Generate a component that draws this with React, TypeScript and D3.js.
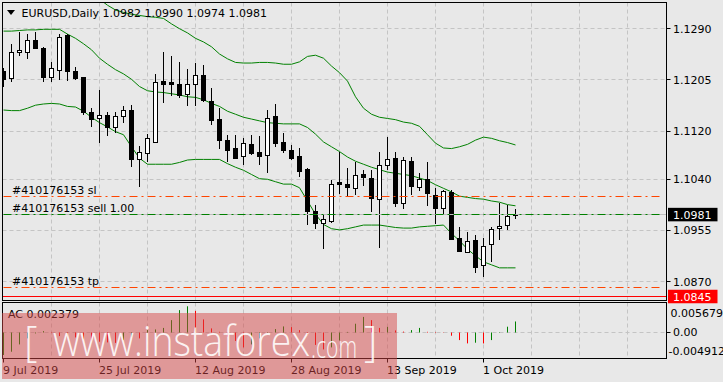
import React from "react";
import * as d3 from "d3";

const W = 723;
const H = 382;

const symbolLabel = "EURUSD,Daily";
const indicatorName = "AC";
const orderId = "#410176153";
const orderSide = "sell 1.00";
const watermarkMain = "www.instaforex";
const watermarkTld = ".com";

const dateLabels = ["9 Jul 2019", "25 Jul 2019", "12 Aug 2019", "28 Aug 2019", "13 Sep 2019", "1 Oct 2019"];
const dateTickIdx = [0, 12, 24, 36, 48, 60];
const priceTicks = [1.129, 1.1205, 1.112, 1.104, 1.0955, 1.087];
const acTicks = [0.005679, 0, -0.004912];

const slPrice = 1.1012;
const entryPrice = 1.0982;
const tpPrice = 1.0861;
const alertPrice = 1.0845;
const bidPrice = 1.0981;

const opens = [1.1220, 1.1208, 1.1251, 1.1252, 1.1271, 1.1258, 1.1210, 1.1221, 1.1279, 1.1219,
  1.1209, 1.1152, 1.1141, 1.1147, 1.1126, 1.1145, 1.1155, 1.1074, 1.1084, 1.1102,
  1.1203, 1.1201, 1.1198, 1.1181, 1.1198, 1.1213, 1.1170, 1.1140, 1.1106, 1.1092,
  1.1079, 1.1098, 1.1085, 1.1080, 1.1145, 1.1102, 1.1089, 1.1079, 1.1057, 1.0987,
  1.0967, 1.0971, 1.1036, 1.1032, 1.1025, 1.1049, 1.1042, 1.1008, 1.1063, 1.1075,
  1.1000, 1.1070, 1.1027, 1.1040, 1.1014, 1.0992, 1.1019, 1.0942, 1.0919, 1.0939,
  1.0897, 1.0932, 1.0959, 1.0964, 1.0982];
const highs = [1.1225, 1.1265, 1.1285, 1.1282, 1.1285, 1.1260, 1.1234, 1.1281, 1.1282, 1.1227,
  1.1210, 1.1158, 1.1188, 1.1152, 1.1152, 1.1162, 1.1163, 1.1096, 1.1116, 1.1215,
  1.1251, 1.1244, 1.1234, 1.1223, 1.1233, 1.1230, 1.1191, 1.1159, 1.1114, 1.1114,
  1.1108, 1.1114, 1.1112, 1.1155, 1.1165, 1.1117, 1.1097, 1.1092, 1.1058, 1.0997,
  1.0980, 1.1039, 1.1086, 1.1058, 1.1069, 1.1055, 1.1055, 1.1086, 1.1110, 1.1086,
  1.1077, 1.1077, 1.1050, 1.1069, 1.1025, 1.1022, 1.1022, 1.0960, 1.0953, 1.0948,
  1.0942, 1.0961, 1.1000, 1.0997, 1.0990];
const lows = [1.1193, 1.1202, 1.1245, 1.1239, 1.1256, 1.1202, 1.1201, 1.1205, 1.1203, 1.1205,
  1.1147, 1.1127, 1.1101, 1.1112, 1.1117, 1.1133, 1.1060, 1.1027, 1.1069, 1.1101,
  1.1167, 1.1179, 1.1175, 1.1161, 1.1161, 1.1168, 1.1130, 1.1090, 1.1068, 1.1075,
  1.1064, 1.1080, 1.1063, 1.1051, 1.1094, 1.1084, 1.1072, 1.1043, 1.0964, 1.0957,
  1.0925, 1.0968, 1.1016, 1.1012, 1.1014, 1.1029, 1.0985, 1.0926, 1.1055, 1.0994,
  1.0990, 1.1014, 1.1021, 1.0996, 1.0966, 1.0982, 1.0940, 1.0920, 1.0918, 1.0885,
  1.0878, 1.0903, 1.0940, 1.0956, 1.0974];
const closes = [1.1206, 1.1251, 1.1255, 1.1271, 1.1258, 1.1209, 1.1224, 1.1276, 1.1219, 1.1208,
  1.1151, 1.1140, 1.1147, 1.1127, 1.1145, 1.1155, 1.1074, 1.1085, 1.1108, 1.1202,
  1.1198, 1.1199, 1.1180, 1.1199, 1.1213, 1.1171, 1.1138, 1.1105, 1.1089, 1.1076,
  1.1100, 1.1083, 1.1078, 1.1142, 1.1101, 1.1089, 1.1076, 1.1054, 1.0988, 1.0968,
  1.0974, 1.1033, 1.1033, 1.1028, 1.1047, 1.1043, 1.1009, 1.1063, 1.1073, 1.1000,
  1.1072, 1.1029, 1.1040, 1.1017, 1.0993, 1.1021, 1.0941, 1.0921, 1.0938, 1.0895,
  1.0930, 1.0957, 1.0962, 1.0979, 1.0981];

const upperBand: (number | null)[] = [null, null, null, null, null, null, null, null, null, null,
  1.1358, 1.1348, 1.1339, 1.1329, 1.1321, 1.1317, 1.1314, 1.1312, 1.1310, 1.1309,
  1.1307, 1.1298, 1.1290, 1.1283, 1.1274, 1.1268, 1.1260, 1.1248, 1.1240, 1.1234,
  1.1233, 1.1233, 1.1234, 1.1234, 1.1233, 1.1231, 1.1231, 1.1235, 1.1244, 1.1246,
  1.1241, 1.1228, 1.1217, 1.1203, 1.1177, 1.1158, 1.1148, 1.1143, 1.1141, 1.1139,
  1.1135, 1.1133, 1.1128, 1.1114, 1.1100, 1.1092, 1.1091, 1.1094, 1.1098, 1.1105,
  1.1110, 1.1108, 1.1104, 1.1101, 1.1097];
const middleBand = [1.1286, 1.1286, 1.1287, 1.1288, 1.1288, 1.1289, 1.1289, 1.1289, 1.1281, 1.1274,
  1.1265, 1.1255, 1.1241, 1.1231, 1.1222, 1.1215, 1.1206, 1.1194, 1.1187, 1.1185,
  1.1184, 1.1182, 1.1180, 1.1177, 1.1176, 1.1172, 1.1166, 1.1161, 1.1153, 1.1148,
  1.1143, 1.1140, 1.1137, 1.1134, 1.1133, 1.1132, 1.1132, 1.1132, 1.1126, 1.1115,
  1.1102, 1.1094, 1.1086, 1.1077, 1.1070, 1.1065, 1.1060, 1.1056, 1.1052, 1.1050,
  1.1048, 1.1046, 1.1042, 1.1038, 1.1031, 1.1025, 1.1019, 1.1012, 1.1010, 1.1008,
  1.1007, 1.1004, 1.1002, 1.0998, 1.0996];
const lowerBand = [1.1155, 1.1154, 1.1154, 1.1158, 1.1163, 1.1165, 1.1166, 1.1165, 1.1161, 1.1160,
  1.1153, 1.1143, 1.1134, 1.1127, 1.1119, 1.1114, 1.1094, 1.1075, 1.1065, 1.1065,
  1.1065, 1.1065, 1.1068, 1.1072, 1.1073, 1.1073, 1.1073, 1.1073, 1.1066, 1.1060,
  1.1055, 1.1048, 1.1041, 1.1040, 1.1036, 1.1032, 1.1032, 1.1026, 1.1004, 1.0982,
  1.0965, 1.0958, 1.0956, 1.0958, 1.0961, 1.0964, 1.0964, 1.0964, 1.0962, 1.0960,
  1.0959, 1.0959, 1.0961, 1.0962, 1.0963, 1.0964, 1.0950, 1.0938, 1.0924, 1.0913,
  1.0903, 1.0898, 1.0893, 1.0893, 1.0893];

const acValues = [-0.004912, -0.0042, -0.00261, -0.0013, -0.00022, 0.00028, 0.00007, -0.0008, -0.00093, -0.00109,
  -0.00152, -0.0018, -0.00202, -0.00217, -0.00228, -0.00167, -0.00093, -0.0013, 0.0005, 0.00065,
  0.00098, 0.00267, 0.00485, 0.005679, 0.00467, 0.00283, 0.00087, 0.00013, -0.00093, -0.00185,
  -0.00326, -0.00261, -0.0013, -0.00013, 0.00072, 0.0013, 0.00115, 0.0005, -0.0005, -0.00272,
  -0.0037, -0.00326, -0.00174, 0.00011, 0.00189, 0.00337, 0.00267, 0.00098, 0.0012, 0.00043,
  0.00017, 0.0005, 0.00098, 0.00013, 0.00009, 0.00004, -0.00072, -0.00167, -0.00239, -0.00224,
  -0.0024, -0.00167, -0.00011, 0.00124, 0.002379];

const FONT = "'DejaVu Sans', sans-serif";
const BG = "#e8e8e8";
const GRID = "#c4c4c4";
const BAND = "#008000";
const ORDER_RED = "#ff4500";

export default function App() {
  const left = 2.5, right = 666.5, mainTop = 2.5, mainBottom = 300.5, indTop = 302.5, indBottom = 358.5;
  const n = closes.length;
  const x = d3.scaleLinear().domain([0, 64]).range([3.5, 515.5]);
  const y = d3.scaleLinear().domain([1.129, 1.087]).range([28.7, 281.7]);
  const ya = d3.scaleLinear().domain([-0.004912, 0.005679]).range([355, 306.3]);
  const crisp = (v: number) => Math.floor(v) + 0.5;

  const bandLine = d3.line<number | null>()
    .defined((d) => d != null)
    .x((_, i) => x(i))
    .y((d) => y(d as number));

  const vGrid: number[] = [];
  for (let i = 6; x(i) < right; i += 6) vGrid.push(x(i));

  const zeroY = crisp(ya(0));
  const ohlcText = [opens[n - 1], highs[n - 1], lows[n - 1], closes[n - 1]].map((v) => v.toFixed(4)).join(" ");

  return (
    <svg width={W} height={H} style={{ position: "absolute", left: 0, top: 0, display: "block" }} fontFamily={FONT}>
      <defs>
        <clipPath id="mainClip">
          <rect x={left} y={mainTop} width={right - left} height={mainBottom - mainTop} />
        </clipPath>
        <clipPath id="indClip">
          <rect x={left} y={indTop} width={right - left} height={indBottom - indTop} />
        </clipPath>
      </defs>
      <rect x={0} y={0} width={W} height={H} fill={BG} />

      {/* grids */}
      <g stroke={GRID} strokeWidth={1} strokeDasharray="4,3">
        {priceTicks.map((p) => (
          <line key={"hg" + p} x1={left} x2={right} y1={crisp(y(p))} y2={crisp(y(p))} />
        ))}
        {vGrid.map((gx) => (
          <line key={"vg" + gx} x1={gx} x2={gx} y1={mainTop} y2={mainBottom} />
        ))}
        {vGrid.map((gx) => (
          <line key={"vgi" + gx} x1={gx} x2={gx} y1={indTop} y2={indBottom} />
        ))}
        <line x1={left} x2={right} y1={zeroY} y2={zeroY} />
      </g>

      {/* main pane content */}
      <g clipPath="url(#mainClip)">
        <path d={bandLine(upperBand) || ""} fill="none" stroke={BAND} strokeWidth={1} />
        <path d={bandLine(middleBand) || ""} fill="none" stroke={BAND} strokeWidth={1} />
        <path d={bandLine(lowerBand) || ""} fill="none" stroke={BAND} strokeWidth={1} />

        {closes.map((c, i) => {
          const o = opens[i];
          const cx = x(i);
          const up = c >= o;
          const yTop = Math.round(y(Math.max(o, c)));
          const yBot = Math.round(y(Math.min(o, c)));
          const h = Math.max(0, yBot - yTop);
          return (
            <g key={"c" + i}>
              <line x1={cx} x2={cx} y1={Math.round(y(highs[i]))} y2={Math.round(y(lows[i]))} stroke="#000" strokeWidth={1} />
              <rect x={cx - 2} y={yTop + 0.5} width={4} height={h} fill={up ? "#fff" : "#000"} stroke="#000" strokeWidth={1} />
            </g>
          );
        })}

        {/* bid line */}
        <line x1={left} x2={right} y1={crisp(y(bidPrice))} y2={crisp(y(bidPrice))} stroke="#bdbdbd" strokeWidth={1} />
        {/* order lines */}
        <line x1={left + 1} x2={660} y1={crisp(y(slPrice))} y2={crisp(y(slPrice))} stroke={ORDER_RED} strokeWidth={1} strokeDasharray="8,4,2,4" />
        <line x1={left + 1} x2={660} y1={crisp(y(entryPrice))} y2={crisp(y(entryPrice))} stroke="#008000" strokeWidth={1} strokeDasharray="8,4,2,4" />
        <line x1={left + 1} x2={660} y1={crisp(y(tpPrice))} y2={crisp(y(tpPrice))} stroke={ORDER_RED} strokeWidth={1} strokeDasharray="8,4,2,4" />
        <line x1={left} x2={right} y1={crisp(y(alertPrice))} y2={crisp(y(alertPrice))} stroke="#ff0000" strokeWidth={1} />

        <g fontSize={11} fill="#000">
          <text x={12} y={y(slPrice) - 2.5}>{orderId + " sl"}</text>
          <text x={12} y={y(entryPrice) - 2.5}>{orderId + " " + orderSide}</text>
          <text x={12} y={y(tpPrice) - 2.5}>{orderId + " tp"}</text>
        </g>
      </g>

      {/* header */}
      <polygon points="7,10 15,10 11,15" fill="#000" />
      <text x={21.5} y={17} fontSize={11} fill="#000">{symbolLabel}</text>
      <text x={102.5} y={17} fontSize={11} fill="#000">{ohlcText}</text>

      {/* indicator bars */}
      <g clipPath="url(#indClip)">
        {acValues.map((v, i) => {
          const prev = i > 0 ? acValues[i - 1] : -Infinity;
          const col = v > prev ? "#008000" : "#ff0000";
          return (
            <line key={"ac" + i} x1={x(i)} x2={x(i)} y1={zeroY} y2={ya(v)} stroke={col} strokeWidth={1} />
          );
        })}
      </g>
      <text x={8} y={317.5} fontSize={11} fill="#000">{indicatorName + " " + acValues[n - 1].toFixed(6)}</text>

      {/* frames */}
      <rect x={left} y={mainTop} width={right - left} height={mainBottom - mainTop} fill="none" stroke="#000" strokeWidth={1} />
      <rect x={left} y={indTop} width={right - left} height={indBottom - indTop} fill="none" stroke="#000" strokeWidth={1} />

      {/* price axis */}
      <g fontSize={11} fill="#000">
        {priceTicks.map((p) => (
          <g key={"pt" + p}>
            <line x1={right} x2={right + 4} y1={crisp(y(p))} y2={crisp(y(p))} stroke="#000" />
            <text x={673} y={y(p) + 4}>{p.toFixed(4)}</text>
          </g>
        ))}
      </g>
      <rect x={668} y={y(bidPrice) - 7} width={49.5} height={13.5} fill="#000" />
      <text x={673} y={y(bidPrice) + 4} fontSize={11} fill="#fff">{bidPrice.toFixed(4)}</text>
      <rect x={668} y={y(alertPrice) - 7} width={49.5} height={13.5} fill="#ff0000" />
      <text x={673} y={y(alertPrice) + 4} fontSize={11} fill="#fff">{alertPrice.toFixed(4)}</text>

      {/* indicator axis */}
      <g fontSize={11} fill="#000">
        <text x={670.5} y={Math.max(ya(acTicks[0]), indTop + 10) + 4}>{acTicks[0].toFixed(6)}</text>
        <line x1={right} x2={right + 4} y1={zeroY} y2={zeroY} stroke="#000" />
        <text x={673} y={ya(acTicks[1]) + 4}>{acTicks[1].toFixed(2)}</text>
        <text x={668.5} y={Math.min(ya(acTicks[2]), indBottom - 7.5) + 4}>{acTicks[2].toFixed(6)}</text>
      </g>

      {/* time axis */}
      <g fontSize={11} fill="#000">
        {dateTickIdx.map((idx, k) => (
          <g key={"dt" + idx}>
            <line x1={x(idx)} x2={x(idx)} y1={indBottom} y2={indBottom + 4} stroke="#000" />
            <text x={x(idx) - 0.5} y={373.5}>{dateLabels[k]}</text>
          </g>
        ))}
      </g>

      {/* watermark */}
      <rect x={2} y={313} width={395} height={66} fill="rgb(214,69,69)" opacity={0.49} />
      <g fill="#fff" opacity={0.88} fontFamily="'Open Sans', sans-serif">
        <text x={24} y={356} fontSize={42} fontWeight={300}>[</text>
        <text x={53} y={356} fontSize={42} fontWeight={300} textLength={257} lengthAdjust="spacingAndGlyphs">{watermarkMain}</text>
        <text x={311} y={358} fontSize={32} fontWeight={300} textLength={46} lengthAdjust="spacingAndGlyphs">{watermarkTld}</text>
        <text x={364} y={356} fontSize={42} fontWeight={300}>]</text>
      </g>
    </svg>
  );
}
